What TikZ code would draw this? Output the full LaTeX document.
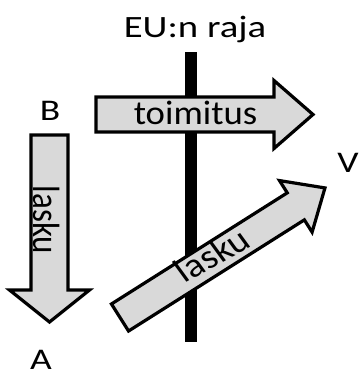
\documentclass[tikz,border=0pt]{standalone}
\usepackage{fontspec}
\setmainfont{Carlito}

\definecolor{arrowgray}{RGB}{217,217,217}
\tikzstyle{blockarrow} = [draw, line width=3.2pt, fill=arrowgray, line join=miter]
\tikzstyle{border} = [line width=11.5pt]
\tikzstyle{place} = [font=\fontsize{30}{36}\selectfont, xscale=1.25, anchor=base, inner sep=0pt]
\tikzstyle{arrowtext} = [font=\fontsize{34}{40}\selectfont, anchor=base, inner sep=0pt]

\begin{document}
\begin{tikzpicture}[x=1pt, y=-1pt]
\useasboundingbox (0,0) rectangle (359,370);

% Border
\coordinate (top) at (191,52);
\coordinate (bottom) at (191,342);
\draw [border] (top) -- (bottom);
\node (raja) [place, font=\fontsize{31}{36}\selectfont] at (195,37) {EU:n raja};

% Places
\node (B) [place] at (50,120) {B};
\node (A) [place] at (41,369) {A};
\node (V) [place] at (348,172) {V};

% Delivery
\draw [blockarrow] (96,97) -- (274,97) -- (274,80.5) -- (313,114.5) -- (274,148.5) -- (274,132) -- (96,132) -- cycle;
\node (toimitus) [arrowtext, xscale=1.08] at (195.5,124) {toimitus};

% Invoices
\draw [blockarrow] (31,135) -- (68,135) -- (68,290) -- (89.5,290) -- (49.5,322) -- (9.5,290) -- (31,290) -- cycle;
\node (lasku1) [arrowtext, font=\fontsize{33}{40}\selectfont, xscale=1.15, rotate=-90] at (34,220) {lasku};

\begin{scope}[shift={(120,317.5)}, rotate=32.3]
\draw [blockarrow] (0,-16) -- (208,-16) -- (208,-30.5) -- (242.5,0) -- (208,30.5) -- (208,16) -- (0,16) -- cycle;
\end{scope}
\node (lasku2) [arrowtext, xscale=1.15, rotate=32.3] at (219,264.5) {lasku};

\end{tikzpicture}
\end{document}
